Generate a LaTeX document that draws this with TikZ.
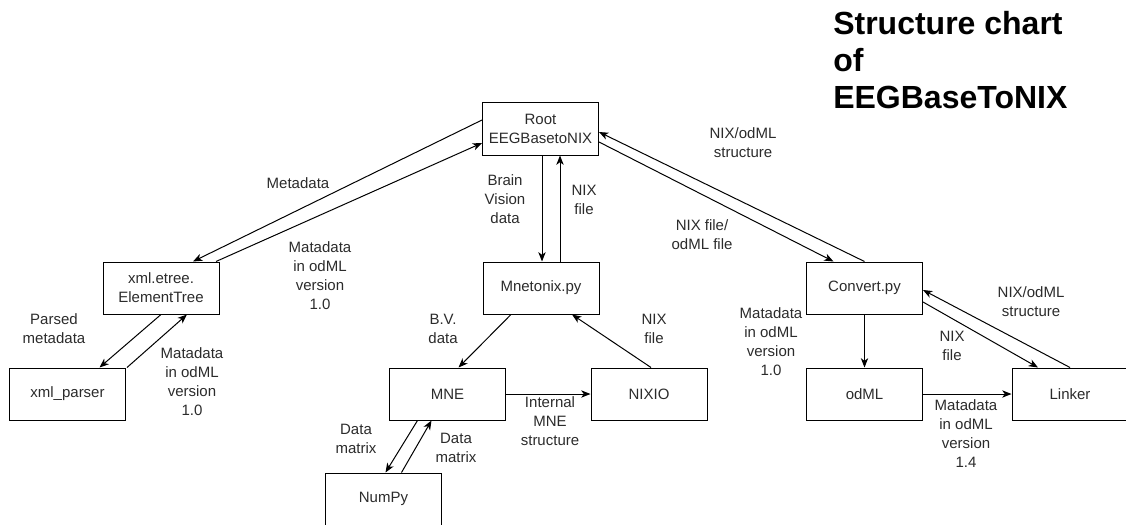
\documentclass[tikz,border=0pt]{standalone}
\usepackage{fontspec}
\setmainfont{Liberation Sans}
\usetikzlibrary{arrows.meta,calc}
\definecolor{ink}{HTML}{2B2B2B}

\tikzset{
  module/.style={draw, line width=0.75pt, minimum width=87pt, minimum height=39pt,
    inner sep=0pt, align=center, text=ink, font=\fontsize{11.25}{14.25}\selectfont},
  flowlbl/.style={inner sep=0pt, align=center, text=ink,
    font=\fontsize{11.25}{14.25}\selectfont},
  flow/.style={line width=0.75pt, -{Stealth[length=7pt,width=5.5pt,inset=2pt]}}
}

\begin{document}
\begin{tikzpicture}[x=0.75pt,y=-0.75pt]
    \useasboundingbox (0,0) rectangle (1126,524);

    % title
    \node[anchor=north west, inner sep=0pt, align=left,
      font=\bfseries\fontsize{24}{27.75}\selectfont] (title) at (833,11)
      {Structure chart\\of\\EEGBaseToNIX};

    % modules
    \node[module] (root) at (540.5,129) {Root\\EEGBasetoNIX};
    \node[module] (etree) at (161,288) {xml.etree.\\ElementTree};
    \node[module] (parser) at (67.5,394) {xml\_parser};
    \node[module] (mnet) at (541,288) {Mnetonix.py};
    \node[module] (mne) at (447.5,394) {MNE};
    \node[module] (nixio) at (649,394) {NIXIO};
    \node[module] (numpy) at (383.5,499) {NumPy};
    \node[module] (conv) at (864.5,288) {Convert.py};
    \node[module] (odml) at (864.5,394) {odML};
    \node[module] (linker) at (1070,394) {Linker};

    % root <-> xml.etree
    \draw[flow] ($(root.west)+(0,-9)$) -- ($(etree.north)+(32,0)$);
    \draw[flow] ($(etree.north)+(55,0)$) -- ($(root.west)+(0,14)$);
    \node[flowlbl] (lmeta) at (298,183) {Metadata};
    \node[flowlbl] (lmeta10) at (320,276) {Matadata\\in odML\\version\\1.0};

    % root <-> mnetonix
    \draw[flow] ($(root.south)+(1.5,0)$) -- ($(mnet.north)+(1,0)$);
    \draw[flow] ($(mnet.north)+(19,0)$) -- ($(root.south)+(19.5,0)$);
    \node[flowlbl] (lbv) at (505,199) {Brain\\Vision\\data};
    \node[flowlbl] (lnix) at (584,200) {NIX\\file};

    % root <-> convert
    \draw[flow] ($(root.east)+(0,13)$) -- ($(conv.north)+(-31,0)$);
    \draw[flow] (conv.north) -- ($(root.east)+(0,3)$);
    \node[flowlbl] (lstruct) at (743,143) {NIX/odML\\structure};
    \node[flowlbl] (lfiles) at (702,235) {NIX file/\\odML file};

    % xml.etree <-> xml_parser
    \draw[flow] (etree.south) -- ($(parser.north)+(32,0)$);
    \draw[flow] ($(parser.north east)+(1,0)$) -- ($(etree.south)+(26,0)$);
    \node[flowlbl] (lparsed) at (54,329) {Parsed\\metadata};
    \node[flowlbl] (lparse10) at (192,382) {Matadata\\in odML\\version\\1.0};

    % mnetonix <-> MNE, NIXIO
    \draw[flow] ($(mnet.south)+(-30,0)$) -- ($(mne.north)+(11,0)$);
    \draw[flow] ($(nixio.north)+(2,0)$) -- ($(mnet.south)+(31,0)$);
    \draw[flow] (mne.east) -- (nixio.west);
    \node[flowlbl] (lbvd) at (443,329) {B.V.\\data};
    \node[flowlbl] (lnixio) at (654,329) {NIX\\file};
    \node[flowlbl] (linternal) at (550,421) {Internal\\MNE\\structure};

    % MNE <-> NumPy
    \draw[flow] ($(mne.south)+(-30,0)$) -- ($(numpy.north)+(2,0)$);
    \draw[flow] ($(numpy.north)+(18,0)$) -- ($(mne.south)+(-16,0)$);
    \node[flowlbl] (lmat1) at (356,439) {Data\\matrix};
    \node[flowlbl] (lmat2) at (456,448) {Data\\matrix};

    % convert <-> odML, linker
    \draw[flow] (conv.south) -- (odml.north);
    \draw[flow] ($(conv.east)+(0,14)$) -- ($(linker.north)+(-32,0)$);
    \draw[flow] (linker.north) -- ($(conv.east)+(0,2)$);
    \draw[flow] (odml.east) -- (linker.west);
    \node[flowlbl] (lconv10) at (771,342) {Matadata\\in odML\\version\\1.0};
    \node[flowlbl] (llstruct) at (1031,302) {NIX/odML\\structure};
    \node[flowlbl] (llnix) at (952,346) {NIX\\file};
    \node[flowlbl] (lodml14) at (966,434) {Matadata\\in odML\\version\\1.4};
\end{tikzpicture}
\end{document}
